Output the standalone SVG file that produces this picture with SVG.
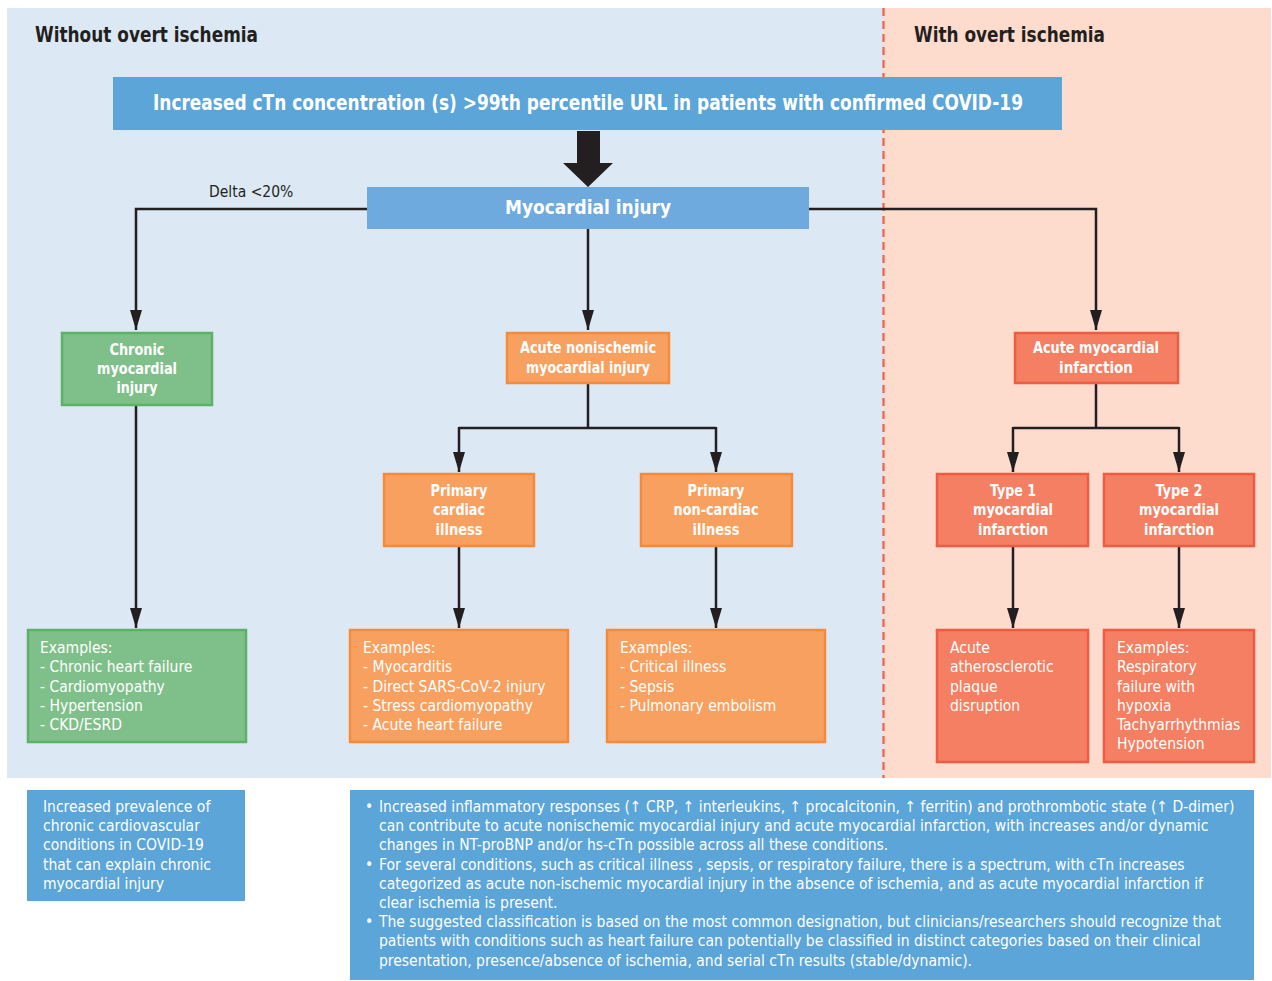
<svg xmlns="http://www.w3.org/2000/svg" width="1272" height="981" viewBox="0 0 1272 981">
<defs>
<marker id="arr" viewBox="0 0 20 12" refX="20" refY="6" markerWidth="20" markerHeight="12" markerUnits="userSpaceOnUse" orient="auto">
<path d="M0,0 L20,6 L0,12 Z" fill="#231f20"/>
</marker>
<style>
text{font-family:"Liberation Sans Narrow","DejaVu Sans Condensed","Liberation Sans",sans-serif;}
.hdr{font-size:21px;font-weight:bold;fill:#231f20;}
.wt{fill:#ffffff;font-weight:bold;font-size:16px;text-anchor:middle;}
.ex{fill:#ffffff;font-size:15.5px;}
.note{fill:#ffffff;font-size:15.5px;}
.con{fill:none;stroke:#231f20;stroke-width:2.5;}
.g{fill:#7fc08a;stroke:#5cb067;stroke-width:2.5;}
.o{fill:#f8a060;stroke:#f58a3a;stroke-width:2.5;}
.r{fill:#f47f62;stroke:#ef5c43;stroke-width:2.5;}
.b{fill:#5ba5d9;}
</style>
</defs>
<rect x="7" y="8" width="876" height="770" fill="#dce9f5"/>
<rect x="883" y="8" width="388" height="770" fill="#fddccd"/>
<line x1="883.5" y1="8" x2="883.5" y2="778" stroke="#f0604a" stroke-width="2.2" stroke-dasharray="8,5"/>
<text class="hdr" x="35" y="42" textLength="223" lengthAdjust="spacingAndGlyphs">Without overt ischemia</text>
<text class="hdr" x="914" y="42" textLength="191" lengthAdjust="spacingAndGlyphs">With overt ischemia</text>

<g id="connectors">
<path d="M577,131 H600 V163 H613 L588,187 L563,163 H577 Z" fill="#231f20"/>
<path class="con" d="M367,209 H136 V330" marker-end="url(#arr)"/>
<path class="con" d="M809,209 H1096 V330" marker-end="url(#arr)"/>
<path class="con" d="M588,229 V330" marker-end="url(#arr)"/>
<path class="con" d="M588,384 V428"/>
<path class="con" d="M459,428 H716"/>
<path class="con" d="M459,427 V472" marker-end="url(#arr)"/>
<path class="con" d="M716,427 V472" marker-end="url(#arr)"/>
<path class="con" d="M1096,383 V428"/>
<path class="con" d="M1013,428 H1179"/>
<path class="con" d="M1013,427 V472" marker-end="url(#arr)"/>
<path class="con" d="M1179,427 V472" marker-end="url(#arr)"/>
<path class="con" d="M136,405 V628" marker-end="url(#arr)"/>
<path class="con" d="M459,546 V628" marker-end="url(#arr)"/>
<path class="con" d="M716,546 V628" marker-end="url(#arr)"/>
<path class="con" d="M1013,546 V628" marker-end="url(#arr)"/>
<path class="con" d="M1179,546 V628" marker-end="url(#arr)"/>
<text x="209" y="197" style="font-size:15.5px;fill:#231f20;">Delta &lt;20%</text>
</g>

<g id="n-top">
<rect class="b" x="113" y="77" width="949" height="53"/>
<text class="wt" x="588" y="110" style="font-size:21px" textLength="870" lengthAdjust="spacingAndGlyphs">Increased cTn concentration (s) &gt;99th percentile URL in patients with confirmed COVID-19</text>
</g>
<g id="n-myo">
<rect x="367" y="187" width="442" height="42" fill="#6eaade"/>
<text class="wt" x="588" y="214" style="font-size:20px" textLength="166" lengthAdjust="spacingAndGlyphs">Myocardial injury</text>
</g>
<g id="n-chronic">
<rect class="g" x="62" y="333" width="150" height="72"/>
<text class="wt" x="137" y="355" textLength="55" lengthAdjust="spacingAndGlyphs">Chronic</text>
<text class="wt" x="137" y="374" textLength="80" lengthAdjust="spacingAndGlyphs">myocardial</text>
<text class="wt" x="137" y="393" textLength="41" lengthAdjust="spacingAndGlyphs">injury</text>
</g>
<g id="n-acute-noni">
<rect class="o" x="507" y="333" width="162" height="50"/>
<text class="wt" x="588" y="353" textLength="136" lengthAdjust="spacingAndGlyphs">Acute nonischemic</text>
<text class="wt" x="588" y="373" textLength="124" lengthAdjust="spacingAndGlyphs">myocardial injury</text>
</g>
<g id="n-ami">
<rect class="r" x="1015" y="333" width="163" height="50"/>
<text class="wt" x="1096" y="353" textLength="126" lengthAdjust="spacingAndGlyphs">Acute myocardial</text>
<text class="wt" x="1096" y="373" textLength="74" lengthAdjust="spacingAndGlyphs">infarction</text>
</g>
<g id="n-pc">
<rect class="o" x="384" y="474" width="150" height="72"/>
<text class="wt" x="459" y="496" textLength="57" lengthAdjust="spacingAndGlyphs">Primary</text>
<text class="wt" x="459" y="515" textLength="52" lengthAdjust="spacingAndGlyphs">cardiac</text>
<text class="wt" x="459" y="535" textLength="47" lengthAdjust="spacingAndGlyphs">illness</text>
</g>
<g id="n-pnc">
<rect class="o" x="641" y="474" width="151" height="72"/>
<text class="wt" x="716" y="496" textLength="57" lengthAdjust="spacingAndGlyphs">Primary</text>
<text class="wt" x="716" y="515" textLength="85" lengthAdjust="spacingAndGlyphs">non-cardiac</text>
<text class="wt" x="716" y="535" textLength="47" lengthAdjust="spacingAndGlyphs">illness</text>
</g>
<g id="n-t1">
<rect class="r" x="937" y="474" width="151" height="72"/>
<text class="wt" x="1013" y="496" textLength="46" lengthAdjust="spacingAndGlyphs">Type 1</text>
<text class="wt" x="1013" y="515" textLength="80" lengthAdjust="spacingAndGlyphs">myocardial</text>
<text class="wt" x="1013" y="535" textLength="70" lengthAdjust="spacingAndGlyphs">infarction</text>
</g>
<g id="n-t2">
<rect class="r" x="1104" y="474" width="150" height="72"/>
<text class="wt" x="1179" y="496" textLength="47" lengthAdjust="spacingAndGlyphs">Type 2</text>
<text class="wt" x="1179" y="515" textLength="80" lengthAdjust="spacingAndGlyphs">myocardial</text>
<text class="wt" x="1179" y="535" textLength="70" lengthAdjust="spacingAndGlyphs">infarction</text>
</g>
<g id="n-ex-chronic">
<rect class="g" x="28" y="630" width="218" height="112"/>
<text class="ex" x="40" y="653">Examples:</text>
<text class="ex" x="40" y="672">- Chronic heart failure</text>
<text class="ex" x="40" y="692">- Cardiomyopathy</text>
<text class="ex" x="40" y="711">- Hypertension</text>
<text class="ex" x="40" y="730">- CKD/ESRD</text>
</g>
<g id="n-ex-pc">
<rect class="o" x="350" y="630" width="218" height="112"/>
<text class="ex" x="363" y="653">Examples:</text>
<text class="ex" x="363" y="672">- Myocarditis</text>
<text class="ex" x="363" y="692">- Direct SARS-CoV-2 injury</text>
<text class="ex" x="363" y="711">- Stress cardiomyopathy</text>
<text class="ex" x="363" y="730">- Acute heart failure</text>
</g>
<g id="n-ex-pnc">
<rect class="o" x="607" y="630" width="218" height="112"/>
<text class="ex" x="620" y="653">Examples:</text>
<text class="ex" x="620" y="672">- Critical illness</text>
<text class="ex" x="620" y="692">- Sepsis</text>
<text class="ex" x="620" y="711">- Pulmonary embolism</text>
</g>
<g id="n-ex-t1">
<rect class="r" x="937" y="630" width="151" height="132"/>
<text class="ex" x="950" y="653">Acute</text>
<text class="ex" x="950" y="672">atherosclerotic</text>
<text class="ex" x="950" y="692">plaque</text>
<text class="ex" x="950" y="711">disruption</text>
</g>
<g id="n-ex-t2">
<rect class="r" x="1104" y="630" width="150" height="132"/>
<text class="ex" x="1117" y="653">Examples:</text>
<text class="ex" x="1117" y="672">Respiratory</text>
<text class="ex" x="1117" y="692">failure with</text>
<text class="ex" x="1117" y="711">hypoxia</text>
<text class="ex" x="1117" y="730">Tachyarrhythmias</text>
<text class="ex" x="1117" y="749">Hypotension</text>
</g>
<g id="n-note-left">
<rect class="b" x="27" y="790" width="218" height="111"/>
<text class="note" x="43" y="812">Increased prevalence of</text>
<text class="note" x="43" y="831">chronic cardiovascular</text>
<text class="note" x="43" y="850">conditions in COVID-19</text>
<text class="note" x="43" y="870">that can explain chronic</text>
<text class="note" x="43" y="889">myocardial injury</text>
</g>
<g id="n-note-right">
<rect class="b" x="350" y="790" width="904" height="190"/>
<text class="note" x="365" y="812">•</text>
<text class="note" x="379" y="812">Increased inflammatory responses (↑ CRP, ↑  interleukins, ↑ procalcitonin, ↑ ferritin) and prothrombotic state (↑ D-dimer)</text>
<text class="note" x="379" y="831">can contribute to acute nonischemic myocardial injury and acute myocardial infarction, with increases and/or dynamic</text>
<text class="note" x="379" y="850">changes in NT-proBNP and/or hs-cTn possible across all these conditions.</text>
<text class="note" x="365" y="870">•</text>
<text class="note" x="379" y="870">For several conditions, such as critical illness , sepsis, or respiratory failure, there is a spectrum, with cTn increases</text>
<text class="note" x="379" y="889">categorized as acute non-ischemic myocardial injury in the absence of ischemia, and as acute myocardial infarction if</text>
<text class="note" x="379" y="908">clear ischemia is present.</text>
<text class="note" x="365" y="927">•</text>
<text class="note" x="379" y="927">The suggested classification is based on the most common designation, but clinicians/researchers should recognize that</text>
<text class="note" x="379" y="946">patients with conditions such as heart failure can potentially be classified in distinct categories based on their clinical</text>
<text class="note" x="379" y="966">presentation, presence/absence of ischemia, and serial cTn results (stable/dynamic).</text>
</g>
</svg>
